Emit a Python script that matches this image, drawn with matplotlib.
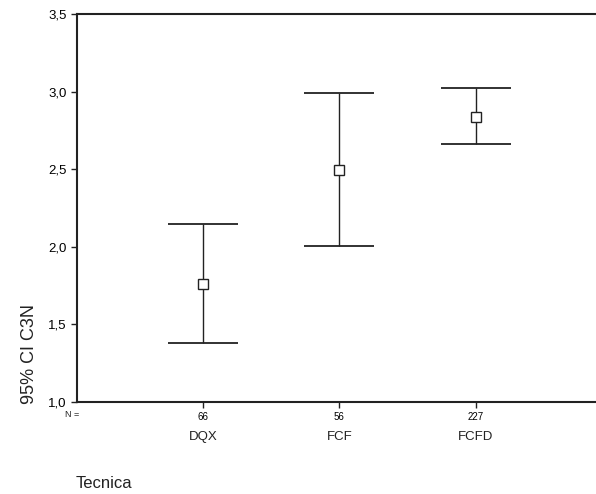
import matplotlib
matplotlib.use("Agg")
import matplotlib.pyplot as plt
from matplotlib.transforms import blended_transform_factory

plt.rcParams["font.family"] = ["Liberation Sans", "DejaVu Sans"]

# data
groups = ["DQX", "FCF", "FCFD"]
counts = ["66", "56", "227"]
means = [1.76, 2.495, 2.835]
ci_low = [1.38, 2.005, 2.66]
ci_high = [2.147, 2.99, 3.02]
yticks = [1.0, 1.5, 2.0, 2.5, 3.0, 3.5]

ink = "#222222"


def main():
    fig = plt.figure(figsize=(5.96, 4.94), dpi=100)
    ax = fig.add_axes([77 / 596, 1 - 402 / 494, 1 - 77 / 596, (402 - 14) / 494])

    x = [1, 2, 3]
    lo = [m - l for m, l in zip(means, ci_low)]
    hi = [h - m for m, h in zip(means, ci_high)]
    ax.errorbar(x, means, yerr=[lo, hi], fmt="none", ecolor=ink,
                elinewidth=1.0, capsize=25, capthick=1.3)
    ax.plot(x, means, "s", markersize=6.5, markerfacecolor="white",
            markeredgecolor=ink, markeredgewidth=1.0, zorder=3)

    ax.set_xlim(0.077, 3.88)
    ax.set_ylim(1.0, 3.5)
    ax.set_yticks(yticks)
    ax.set_yticklabels([f"{v:.1f}".replace(".", ",") for v in yticks], fontsize=9.5)
    ax.set_xticks(x)
    ax.set_xticklabels(counts, fontsize=7)
    ax.tick_params(axis="both", direction="out", length=4, width=1, color=ink)
    ax.tick_params(axis="x", pad=3)

    for side in ["top", "left", "bottom"]:
        ax.spines[side].set_linewidth(1.5)
        ax.spines[side].set_color(ink)
    ax.spines["right"].set_visible(False)

    trans = blended_transform_factory(ax.transData, fig.transFigure)
    for xi, g in zip(x, groups):
        ax.text(xi, 1 - 437 / 494, g, transform=trans, ha="center", va="center",
                fontsize=9.5, color=ink)
    fig.text(72 / 596, 1 - 414 / 494, "N =", fontsize=6.5, ha="center",
             va="center", color=ink)

    fig.text(30 / 596, 1 - 404 / 494, "95% CI C3N", fontsize=13, rotation=90,
             ha="center", va="bottom", color=ink)
    fig.text(76 / 596, 1 - 483 / 494, "Tecnica", fontsize=12, ha="left",
             va="center", color=ink)

    fig.savefig("out.png", dpi=100)


if __name__ == "__main__":
    main()
